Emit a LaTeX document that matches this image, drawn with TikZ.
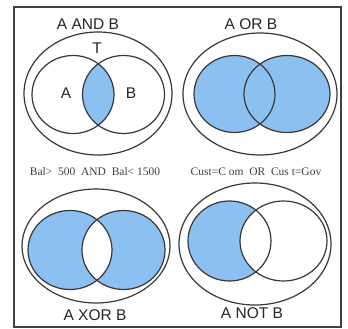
\documentclass[tikz,border=0pt]{standalone}
\usepackage{fontspec}
\setmainfont{Liberation Serif}
\newfontfamily\titlefont{Liberation Sans}
\begin{document}
\begin{tikzpicture}[x=1pt,y=-1pt,
  ln/.style={draw=black!78, line width=1.2pt},
  ttl/.style={font=\titlefont\fontsize{15.5}{15.5}\selectfont, text=black!85, inner sep=0pt},
  cond/.style={font=\fontsize{11.5}{11.5}\selectfont, text=black!75, inner sep=0pt}]
\definecolor{vennblue}{RGB}{140,192,240}
\useasboundingbox[fill=white] (0,0) rectangle (348,329);
\node[draw=black!75, line width=1.1pt, minimum width=327pt, minimum height=320pt, inner sep=0pt] (frame) at (177.5,167) {};

% ---------- A AND B ----------
\begin{scope}
  \clip (73,94.5) ellipse [x radius=41, y radius=39];
  \fill[vennblue] (123.5,94.5) ellipse [x radius=41, y radius=39];
\end{scope}
\draw[ln] (98,93.5) ellipse [x radius=74, y radius=61.5];
\draw[ln] (73,94.5) ellipse [x radius=41, y radius=39];
\draw[ln] (123.5,94.5) ellipse [x radius=41, y radius=39];
\node[ttl] (t1) at (88,24) {A AND B};
\node[ttl] (tT) at (97,48) {T};
\node[ttl] (tA) at (66,93) {A};
\node[ttl] (tB) at (131,93) {B};

% ---------- A OR B ----------
\fill[vennblue] (234.5,94) ellipse [x radius=40.5, y radius=38.5];
\fill[vennblue] (287,94) ellipse [x radius=43, y radius=38.5];
\draw[ln] (260,94) ellipse [x radius=77, y radius=61];
\draw[ln] (234.5,94) ellipse [x radius=40.5, y radius=38.5];
\draw[ln] (287,94) ellipse [x radius=43, y radius=38.5];
\node[ttl] (t2) at (251,24) {A OR B};

% ---------- conditions ----------
\node[cond] (c1) at (95,172) {Bal>\ \ 500\ \ AND\ \ Bal<\ 1500};
\node[cond] (c2) at (256,172) {Cust=C\ om\ \ OR\ \ Cus\ t=Gov};

% ---------- A XOR B ----------
\fill[vennblue, even odd rule] (70,250) ellipse [x radius=42, y radius=39.5]
  (123.5,250) ellipse [x radius=41.5, y radius=39.5];
\draw[ln] (96,246) ellipse [x radius=74, y radius=57];
\draw[ln] (70,250) ellipse [x radius=42, y radius=39.5];
\draw[ln] (123.5,250) ellipse [x radius=41.5, y radius=39.5];
\node[ttl] (t3) at (95,315) {A XOR B};

% ---------- A NOT B ----------
\fill[vennblue] (229.5,241) ellipse [x radius=41.5, y radius=40];
\begin{scope}
  \clip (229.5,241) ellipse [x radius=41.5, y radius=40];
  \fill[white] (283.5,241) ellipse [x radius=43.5, y radius=40];
\end{scope}
\draw[ln] (255,244) ellipse [x radius=76, y radius=61];
\draw[ln] (229.5,241) ellipse [x radius=41.5, y radius=40];
\draw[ln] (283.5,241) ellipse [x radius=43.5, y radius=40];
\node[ttl] (t4) at (252,313) {A NOT B};
\end{tikzpicture}
\end{document}
